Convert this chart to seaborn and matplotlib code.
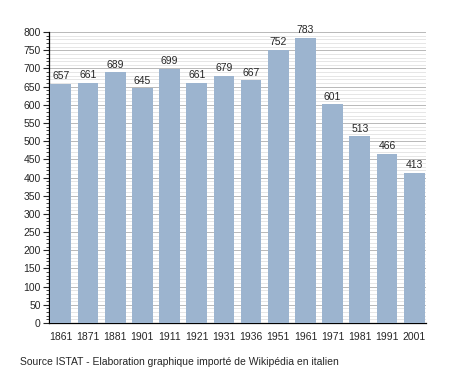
import pandas as pd
import seaborn as sns
import matplotlib.pyplot as plt
from matplotlib.ticker import MultipleLocator

years = ['1861', '1871', '1881', '1901', '1911', '1921', '1931', '1936',
         '1951', '1961', '1971', '1981', '1991', '2001']
population = [657, 661, 689, 645, 699, 661, 679, 667, 752, 783, 601, 513, 466, 413]

df = pd.DataFrame({'year': years, 'pop': population})

sns.set_style('white')
plt.rcParams['font.family'] = ['Liberation Sans', 'DejaVu Sans']

fig = plt.figure(figsize=(4.55, 3.73), dpi=100)
ax = fig.add_axes([0.108, 0.134, 0.828, 0.780])

sns.barplot(data=df, x='year', y='pop', color='#9cb4cf', saturation=1,
            width=0.76, linewidth=0, edgecolor='none', ax=ax, zorder=3)

for i, v in enumerate(population):
    ax.text(i, v + 8, str(v), ha='center', va='bottom', fontsize=7.5, zorder=4)

ax.set_xlim(-0.43, 13.43)
ax.set_ylim(0, 800)
ax.yaxis.set_major_locator(MultipleLocator(50))
ax.yaxis.set_minor_locator(MultipleLocator(10))
ax.grid(which='major', axis='y', color='#b8b8b8', linewidth=0.7, zorder=0)
ax.grid(which='minor', axis='y', color='#e2e2e2', linewidth=0.6, zorder=0)
ax.set_axisbelow(True)

ax.tick_params(axis='y', which='major', left=True, length=4, width=0.8,
               labelsize=7.5, pad=2)
ax.tick_params(axis='y', which='minor', left=True, length=2.5, width=0.6)
ax.tick_params(axis='x', bottom=False, labelsize=7.5, pad=3)

for s in ['top', 'right']:
    ax.spines[s].set_visible(False)
for s in ['left', 'bottom']:
    ax.spines[s].set_color('black')
    ax.spines[s].set_linewidth(0.9)

ax.set_xlabel('')
ax.set_ylabel('')

fig.text(0.044, 0.03, 'Source ISTAT - Elaboration graphique importé de Wikipédia en italien',
         fontsize=7.5, ha='left', va='center')

fig.savefig('out.png', dpi=100)
